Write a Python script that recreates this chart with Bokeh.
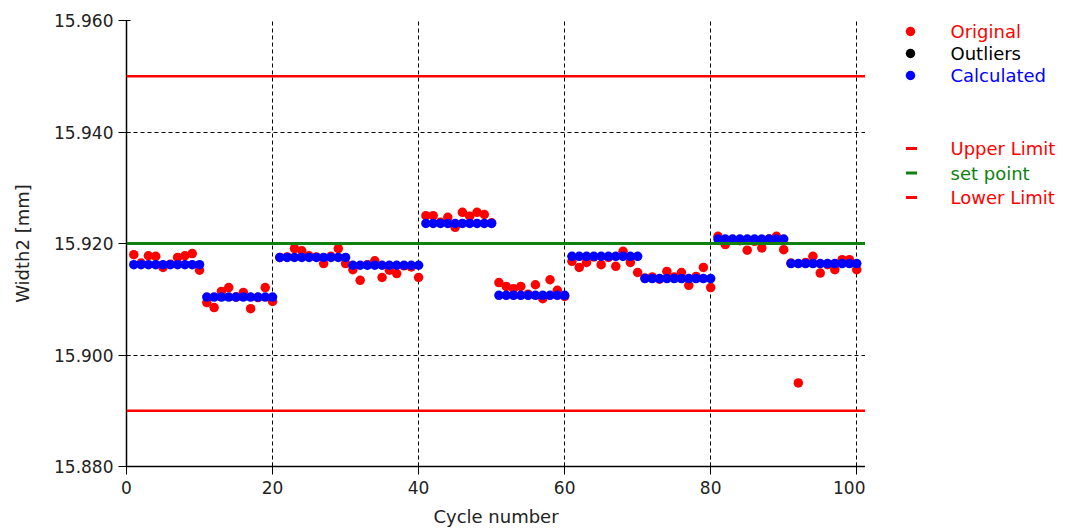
from bokeh.plotting import figure
from bokeh.models import Range1d, Span, FixedTicker, ColumnDataSource
from bokeh.layouts import row
from bokeh.core.properties import value
from bokeh.embed import file_html
from bokeh.resources import INLINE

# ---------------- data ----------------
cycle = list(range(1, 101))
original = [
    15.9180, 15.9165, 15.9178, 15.9177, 15.9157, 15.9163, 15.9175, 15.9178, 15.9182, 15.9152,
    15.9094, 15.9085, 15.9114, 15.9121, 15.9104, 15.9112, 15.9083, 15.9103, 15.9121, 15.9096,
    15.9175, 15.9176, 15.9191, 15.9187, 15.9178, 15.9176, 15.9164, 15.9177, 15.9191, 15.9164,
    15.9153, 15.9134, 15.9162, 15.9169, 15.9139, 15.9152, 15.9146, 15.9160, 15.9158, 15.9139,
    15.9250, 15.9250, 15.9238, 15.9247, 15.9229, 15.9256, 15.9249, 15.9256, 15.9252, 15.9237,
    15.9130, 15.9123, 15.9119, 15.9123, 15.9109, 15.9126, 15.9101, 15.9135, 15.9116, 15.9105,
    15.9168, 15.9157, 15.9166, 15.9176, 15.9162, 15.9175, 15.9159, 15.9186, 15.9166, 15.9148,
    15.9138, 15.9140, 15.9136, 15.9150, 15.9140, 15.9148, 15.9125, 15.9141, 15.9157, 15.9121,
    15.9213, 15.9198, 15.9206, 15.9205, 15.9188, 15.9204, 15.9192, 15.9208, 15.9213, 15.9189,
    15.9165, 15.8950, 15.9166, 15.9177, 15.9147, 15.9162, 15.9153, 15.9171, 15.9171, 15.9153,
]
calculated = [
    15.9162, 15.9162, 15.9162, 15.9162, 15.9162, 15.9162, 15.9162, 15.9162, 15.9162, 15.9162,
    15.9104, 15.9104, 15.9104, 15.9104, 15.9104, 15.9104, 15.9104, 15.9104, 15.9104, 15.9104,
    15.9175, 15.9175, 15.9175, 15.9175, 15.9175, 15.9175, 15.9175, 15.9175, 15.9175, 15.9175,
    15.9161, 15.9161, 15.9161, 15.9161, 15.9161, 15.9161, 15.9161, 15.9161, 15.9161, 15.9161,
    15.9236, 15.9236, 15.9236, 15.9236, 15.9236, 15.9236, 15.9236, 15.9236, 15.9236, 15.9236,
    15.9107, 15.9107, 15.9107, 15.9107, 15.9107, 15.9107, 15.9107, 15.9107, 15.9107, 15.9107,
    15.9177, 15.9177, 15.9177, 15.9177, 15.9177, 15.9177, 15.9177, 15.9177, 15.9177, 15.9177,
    15.9137, 15.9137, 15.9137, 15.9137, 15.9137, 15.9137, 15.9137, 15.9137, 15.9137, 15.9137,
    15.9208, 15.9208, 15.9208, 15.9208, 15.9208, 15.9208, 15.9208, 15.9208, 15.9208, 15.9208,
    15.9164, 15.9164, 15.9164, 15.9164, 15.9164, 15.9164, 15.9164, 15.9164, 15.9164, 15.9164,
]
outlier_x = []
outlier_y = []
upper_limit = 15.950
set_point = 15.920
lower_limit = 15.890

x_ticks = [0, 20, 40, 60, 80, 100]
y_ticks = [15.880, 15.900, 15.920, 15.940, 15.960]
y_tick_labels = ["15.880", "15.900", "15.920", "15.940", "15.960"]

point_labels = ["Original", "Outliers", "Calculated"]
point_colors = ["#FF0000", "#000000", "#0000FF"]
line_labels = ["Upper Limit", "set point", "Lower Limit"]
line_colors = ["#FF0000", "#108010", "#FF0000"]

FONT = "DejaVu Sans"

# ---------------- main plot ----------------
p = figure(frame_width=739, frame_height=446, output_backend="svg", toolbar_location=None,
           x_range=Range1d(0, 101.2), y_range=Range1d(15.880, 15.960),
           min_border_left=126, min_border_right=0, min_border_top=20, min_border_bottom=60)
p.outline_line_color = None
p.background_fill_color = "white"
p.border_fill_color = "white"

for ax in (p.xaxis[0], p.yaxis[0]):
    ax.axis_line_color = "black"
    ax.axis_line_width = 1.5
    ax.major_tick_line_color = "black"
    ax.major_tick_out = 8
    ax.major_tick_in = 4
    ax.minor_tick_line_color = None
    ax.major_label_text_font = FONT
    ax.major_label_text_font_size = "17px"
    ax.major_label_text_color = "#222222"
    ax.axis_label_text_font = FONT
    ax.axis_label_text_font_size = "18px"
    ax.axis_label_text_font_style = "normal"
    ax.axis_label_text_color = "#222222"

p.xaxis.ticker = FixedTicker(ticks=x_ticks)
p.yaxis.ticker = FixedTicker(ticks=y_ticks)
p.yaxis.major_label_overrides = {t: l for t, l in zip(y_ticks, y_tick_labels)}
p.xaxis.axis_label = "Cycle number"
p.yaxis.axis_label = "Width2 [mm]"
p.xaxis.major_label_standoff = 6
p.yaxis.major_label_standoff = 5
p.xaxis.axis_label_standoff = 9
p.yaxis.axis_label_standoff = 18

p.xgrid.ticker = FixedTicker(ticks=x_ticks)
p.ygrid.ticker = FixedTicker(ticks=y_ticks)
for g in (p.xgrid[0], p.ygrid[0]):
    g.grid_line_color = "black"
    g.grid_line_dash = "4 3"
    g.grid_line_width = 1

for loc, col, w in [(upper_limit, line_colors[0], 2.5), (set_point, line_colors[1], 3),
                    (lower_limit, line_colors[2], 2.5)]:
    p.add_layout(Span(location=loc, dimension="width", line_color=col, line_width=w))

src = ColumnDataSource(dict(x=cycle, orig=original, calc=calculated))
p.scatter("x", "orig", source=src, size=9.5, fill_color=point_colors[0], line_color=None)
p.scatter(x=outlier_x, y=outlier_y, size=9.5, fill_color=point_colors[1], line_color=None)
p.scatter("x", "calc", source=src, size=9.5, fill_color=point_colors[2], line_color=None)

# ---------------- legend panel ----------------
# frame shares the main plot's top (20 px) and bottom (466 px), so the
# y range is expressed in page pixels from the top
lg = figure(frame_width=203, frame_height=446, output_backend="svg", toolbar_location=None,
            x_range=Range1d(0, 203), y_range=Range1d(466, 20),
            x_axis_location=None, y_axis_location=None,
            min_border_left=0, min_border_right=0, min_border_top=20, min_border_bottom=60)
lg.grid.visible = False
lg.outline_line_color = None

point_y = [31 + 22 * i for i in range(len(point_labels))]
line_y = [148 + 24.5 * i for i in range(len(line_labels))]

lg.scatter(x=[45] * 3, y=point_y, size=9.5, fill_color=point_colors, line_color=None)
lg.text(x=[85] * 3, y=point_y, text=point_labels, text_color=point_colors,
        text_font=value(FONT), text_font_size="18px", text_baseline="middle")
lg.scatter(x=[46] * 3, y=line_y, marker="dash", size=11, line_color=line_colors, line_width=3)
lg.text(x=[85] * 3, y=line_y, text=line_labels, text_color=line_colors,
        text_font=value(FONT), text_font_size="18px", text_baseline="middle")

layout = row(p, lg)
open("out.html", "w").write(file_html(layout, INLINE))
